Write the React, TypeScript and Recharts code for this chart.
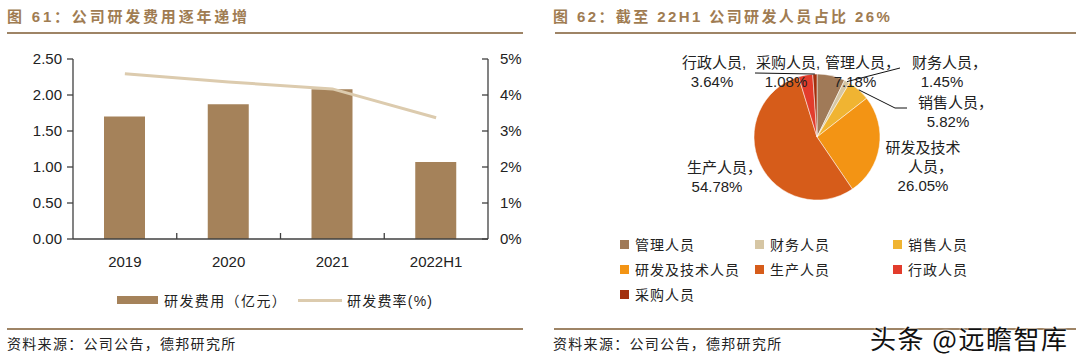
import React from 'react';
import { ComposedChart, Bar, Line, XAxis, YAxis, Legend, PieChart, Pie, Cell } from 'recharts';

// ---------- data: left chart ----------
const years = ['2019', '2020', '2021', '2022H1'];
const rdExpense = [1.7, 1.87, 2.08, 1.07]; // 亿元
const rdRate = [4.59, 4.36, 4.17, 3.37]; // %
const leftTicks = [0, 0.5, 1, 1.5, 2, 2.5];
const rightTicks = [0, 1, 2, 3, 4, 5];
const barName = '研发费用（亿元）';
const lineName = '研发费率(%)';

// ---------- data: right chart ----------
const staffNames = ['管理人员', '财务人员', '销售人员', '研发及技术人员', '生产人员', '行政人员', '采购人员'];
const staffShares = [7.18, 1.45, 5.82, 26.05, 54.78, 3.64, 1.08];

// ---------- styles ----------
const staffColors = ['#a07a58', '#d6c6a4', '#f0b432', '#f39414', '#d65c1a', '#e23c2c', '#a3300e'];
const BAR_COLOR = '#a5825a';
const LINE_COLOR = '#dccbae';
const AXIS_COLOR = '#404040';
const TITLE_COLOR = '#a07c52';
const RULE_COLOR = '#9e8466';
const TEXT_COLOR = '#222';
const FONT = "'Liberation Sans', Arial, 'Noto Sans CJK SC', sans-serif";
const CJK = "'Noto Sans CJK SC', 'Liberation Sans', sans-serif";

// label layout for pie (offsets from pie centre of first text line)
const labelOffsets: [number, number][] = [
  [38, -75],
  [125, -75],
  [131, -35],
  [106, 10],
  [-100, 30],
  [-105, -75],
  [-31, -75],
];
const labelCommas = ['，', '，', '，', '，', '，', ',', ','];
const leaderPaths: Record<number, [number, number][]> = {
  1: [[83, -69]],
  2: [[78, -29], [90, -29]],
  6: [[-62, -64]],
};
const LABEL_GAP = 19;
const LABEL_FS = 15;
const X_TICK_MARGIN = 17;

const barData = years.map((y, i) => ({ year: y, expense: rdExpense[i], rate: rdRate[i] }));
const pieData = staffNames.map((n, i) => ({ name: n, value: staffShares[i] }));

const XTick = (props: any) => {
  const { x, y, payload, index } = props;
  const half = payload && payload.offset ? payload.offset : 0;
  return (
    <g>
      {index > 0 && half > 0 && (
        <line
          x1={x - half}
          x2={x - half}
          y1={y - X_TICK_MARGIN}
          y2={y - X_TICK_MARGIN - 6}
          stroke={AXIS_COLOR}
          strokeWidth={1.3}
        />
      )}
      <text x={x} y={y} dy="0.71em" textAnchor="middle" fill={TEXT_COLOR} fontSize={15} fontFamily={FONT}>
        {payload.value}
      </text>
    </g>
  );
};

const LeftLegend = () => (
  <div style={{ position: 'relative', width: 540, height: 24, fontFamily: CJK, fontSize: 14, color: TEXT_COLOR }}>
    <div style={{ position: 'absolute', left: 117, top: 9, width: 41, height: 8, background: BAR_COLOR }} />
    <div style={{ position: 'absolute', left: 164, top: 5, lineHeight: '16px', letterSpacing: 1.4, whiteSpace: 'nowrap' }}>{barName}</div>
    <div style={{ position: 'absolute', left: 298, top: 12, width: 44, height: 3, background: LINE_COLOR }} />
    <div style={{ position: 'absolute', left: 347, top: 5, lineHeight: '16px', letterSpacing: 1.2, whiteSpace: 'nowrap' }}>
      研发费率<span style={{ fontFamily: FONT }}>(%)</span>
    </div>
  </div>
);

const legendCols = [80, 215, 353];
const PieLegend = () => (
  <div style={{ position: 'relative', width: 540, height: 80, fontFamily: CJK, fontSize: 14, color: TEXT_COLOR }}>
    {staffNames.map((n, i) => {
      const col = legendCols[i % 3];
      const row = Math.floor(i / 3);
      return (
        <div key={n}>
          <div style={{ position: 'absolute', left: col, top: row * 25 + 4, width: 9, height: 9, background: staffColors[i] }} />
          <div style={{ position: 'absolute', left: col + 15, top: row * 25, lineHeight: '17px', letterSpacing: 1, whiteSpace: 'nowrap' }}>{n}</div>
        </div>
      );
    })}
  </div>
);

// each line: [main text, trailing comma]
const labelLines = (i: number): [string, string][] => {
  const pct = staffShares[i].toFixed(2) + '%';
  const name = staffNames[i];
  const comma = labelCommas[i];
  if (name.length > 5) return [[name.slice(0, 5), ''], [name.slice(5), comma], [pct, '']];
  return [[name, comma], [pct, '']];
};

const PieLabel = (props: any) => {
  const { cx, cy, midAngle, outerRadius, index } = props;
  const [dx, dy] = labelOffsets[index];
  const rad = (-midAngle * Math.PI) / 180;
  const px = cx + outerRadius * Math.cos(rad);
  const py = cy + outerRadius * Math.sin(rad);
  const leader = leaderPaths[index];
  const pts = leader ? [[px, py], ...leader.map(([lx, ly]) => [cx + lx, cy + ly])] : null;
  return (
    <g>
      {pts && <polyline points={pts.map((p) => p.join(',')).join(' ')} fill="none" stroke="#111" strokeWidth={1} />}
      {labelLines(index).map(([t, c], k) => {
        const ty = cy + dy + k * LABEL_GAP;
        const tx = cx + dx;
        return (
          <g key={k}>
            <text x={tx} y={ty} textAnchor="middle" dominantBaseline="central" fill={TEXT_COLOR} fontSize={LABEL_FS} fontFamily={FONT}>
              {t}
            </text>
            {c && (
              <text
                x={tx + (t.length * LABEL_FS) / 2}
                y={ty}
                textAnchor="start"
                dominantBaseline="central"
                fill={TEXT_COLOR}
                fontSize={LABEL_FS}
                fontFamily={FONT}
              >
                {c}
              </text>
            )}
          </g>
        );
      })}
    </g>
  );
};

const titleStyle: React.CSSProperties = {
  position: 'absolute',
  top: 9,
  fontSize: 15,
  lineHeight: '16px',
  fontWeight: 'bold',
  color: TITLE_COLOR,
  fontFamily: FONT,
  letterSpacing: 2.8,
  whiteSpace: 'nowrap',
};
const sourceStyle: React.CSSProperties = {
  position: 'absolute',
  top: 335,
  fontSize: 14,
  lineHeight: '16px',
  color: TEXT_COLOR,
  fontFamily: CJK,
  letterSpacing: 1.3,
  whiteSpace: 'nowrap',
};
const rule = (left: number, top: number, width: number): React.CSSProperties => ({
  position: 'absolute',
  left,
  top,
  width,
  height: 2,
  background: RULE_COLOR,
});

export default function App() {
  return (
    <div style={{ position: 'absolute', left: 0, top: 0, width: 1080, height: 363, background: '#fff', overflow: 'hidden' }}>
      <div style={{ ...titleStyle, left: 7 }}>图 61：公司研发费用逐年递增</div>
      <div style={{ ...titleStyle, left: 553, letterSpacing: 2.4 }}>图 62：截至 22H1 公司研发人员占比 26%</div>
      <div style={rule(7, 32, 516)} />
      <div style={rule(555, 32, 521)} />
      <div style={rule(7, 328, 516)} />
      <div style={rule(554, 328, 522)} />

      <div style={{ position: 'absolute', left: 0, top: 0 }}>
        <ComposedChart width={540} height={363} data={barData} margin={{ top: 59, right: 12, bottom: 94, left: 13 }}>
          <XAxis
            dataKey="year"
            height={30}
            tickLine={false}
            tickSize={0}
            tickMargin={X_TICK_MARGIN}
            axisLine={{ stroke: AXIS_COLOR, strokeWidth: 1.3 }}
            tick={<XTick />}
            interval={0}
          />
          <YAxis
            yAxisId="left"
            width={60}
            domain={[0, 2.5]}
            ticks={leftTicks}
            tickFormatter={(v: number) => v.toFixed(2)}
            tickSize={6}
            tickMargin={5}
            axisLine={{ stroke: AXIS_COLOR, strokeWidth: 1.3 }}
            tickLine={{ stroke: AXIS_COLOR, strokeWidth: 1.3 }}
            tick={{ fill: TEXT_COLOR, fontSize: 15, fontFamily: FONT }}
          />
          <YAxis
            yAxisId="right"
            orientation="right"
            width={40}
            domain={[0, 5]}
            ticks={rightTicks}
            tickFormatter={(v: number) => `${v}%`}
            tickSize={-6}
            tickMargin={18}
            axisLine={{ stroke: AXIS_COLOR, strokeWidth: 1.3 }}
            tickLine={{ stroke: AXIS_COLOR, strokeWidth: 1.3 }}
            tick={{ fill: TEXT_COLOR, fontSize: 15, fontFamily: FONT }}
          />
          <Bar yAxisId="left" dataKey="expense" name={barName} fill={BAR_COLOR} barSize={41} isAnimationActive={false} />
          <Line
            yAxisId="right"
            dataKey="rate"
            name={lineName}
            stroke={LINE_COLOR}
            strokeWidth={3}
            dot={false}
            activeDot={false}
            type="linear"
            isAnimationActive={false}
          />
          <Legend
            layout="horizontal"
            verticalAlign="middle"
            align="center"
            content={<LeftLegend />}
            wrapperStyle={{ left: 0, top: 287, width: 540 }}
          />
        </ComposedChart>
      </div>

      <div style={{ position: 'absolute', left: 540, top: 0 }}>
        <PieChart width={540} height={363} margin={{ top: 0, right: 0, bottom: 0, left: 0 }}>
          <Pie
            data={pieData}
            dataKey="value"
            nameKey="name"
            cx={277}
            cy={137}
            outerRadius={63}
            startAngle={90}
            endAngle={-270}
            stroke="#ffffff"
            strokeWidth={0.5}
            label={PieLabel}
            labelLine={false}
            isAnimationActive={false}
          >
            {pieData.map((d, i) => (
              <Cell key={d.name} fill={staffColors[i]} />
            ))}
          </Pie>
          <Legend
            layout="horizontal"
            verticalAlign="middle"
            align="center"
            content={<PieLegend />}
            wrapperStyle={{ left: 0, top: 236, width: 540 }}
          />
        </PieChart>
      </div>

      <div style={{ ...sourceStyle, left: 7 }}>资料来源：公司公告，德邦研究所</div>
      <div style={{ ...sourceStyle, left: 553 }}>资料来源：公司公告，德邦研究所</div>
      <div
        style={{
          position: 'absolute',
          left: 870,
          top: 324,
          fontSize: 26,
          lineHeight: '28px',
          color: '#111',
          fontFamily: CJK,
          letterSpacing: 1.5,
          whiteSpace: 'nowrap',
          textShadow: '0 0 2px #fff, 0 0 2px #fff',
        }}
      >
        头条 @远瞻智库
      </div>
    </div>
  );
}
